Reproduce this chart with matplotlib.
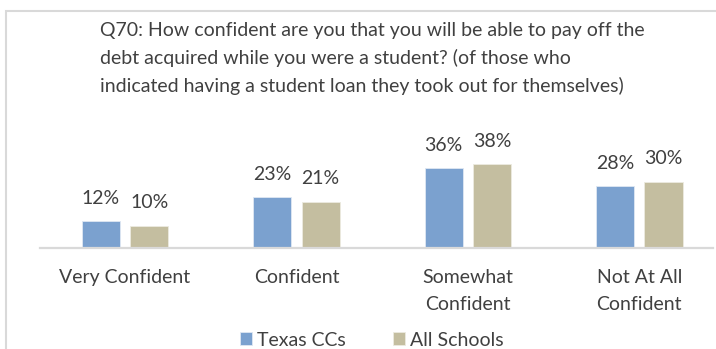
import matplotlib
matplotlib.use("Agg")
import matplotlib.pyplot as plt
from matplotlib.patches import Rectangle
import numpy as np

# Survey results (percent of respondents)
categories = ["Very Confident", "Confident", "Somewhat\nConfident", "Not At All\nConfident"]
texas_ccs = [12, 23, 36, 28]
all_schools = [10, 21, 38, 30]
series_names = ["Texas CCs", "All Schools"]
title = ("Q70: How confident are you that you will be able to pay off the\n"
         "debt acquired while you were a student? (of those who\n"
         "indicated having a student loan they took out for themselves)")

W, H = 716, 349
DPI = 100
plt.rcParams["font.family"] = ["Lato", "DejaVu Sans"]
TEXT = "#404040"
BLUE = "#7ba1cf"
TAN = "#c4bea0"
GRID = "#d9d9d9"
FS = 14

fig = plt.figure(figsize=(W / DPI, H / DPI), dpi=DPI)

# outer chart frame (partly cut off at right and bottom)
fig.add_artist(Rectangle((6 / W, -0.1), 1.2, (H - 11) / H + 0.1,
                         transform=fig.transFigure, fill=False,
                         edgecolor=GRID, linewidth=1.5))

# axes placement in pixels
left_px, right_px = 40, 713
base_px, top_px = 248, 137.5
ax = fig.add_axes([left_px / W, (H - base_px) / H,
                   (right_px - left_px) / W, (base_px - top_px) / H])

x = np.arange(len(categories))
bw = 0.222
off = 0.1414
b1 = ax.bar(x - off, texas_ccs, bw, color=BLUE, edgecolor="#dfe8f3",
            linewidth=0.6, label=series_names[0])
b2 = ax.bar(x + off, all_schools, bw, color=TAN, edgecolor="#ecebe0",
            linewidth=0.6, label=series_names[1])

for bars, vals in ((b1, texas_ccs), (b2, all_schools)):
    for r, v in zip(bars, vals):
        ax.annotate(f"{v}%", (r.get_x() + r.get_width() / 2, v),
                    xytext=(0, 23), textcoords="offset pixels",
                    ha="center", va="center", fontsize=FS, color=TEXT)

ax.set_xlim(-0.4956, 3.43)
ax.set_ylim(0, 50)
for s in ("top", "left", "right"):
    ax.spines[s].set_visible(False)
ax.spines["bottom"].set_color(GRID)
ax.spines["bottom"].set_linewidth(1.6)
ax.set_yticks([])
ax.set_xticks(x, categories)
ax.tick_params(axis="x", length=0, pad=15, labelsize=FS, labelcolor=TEXT)
for lbl in ax.get_xticklabels():
    lbl.set_linespacing(1.72)
ax.patch.set_visible(False)

fig.text(100 / W, 1 - 22 / H, title, ha="left", va="top", fontsize=FS,
         color=TEXT, linespacing=1.65)

fig.legend(handles=[b1, b2], labels=series_names, loc="center",
           bbox_to_anchor=(372 / W, 1 - 340 / H), ncol=2, frameon=False,
           fontsize=FS, labelcolor=TEXT, handlelength=0.6,
           handleheight=0.6, handletextpad=0.3, columnspacing=2.4)

fig.savefig("out.png", dpi=DPI)
